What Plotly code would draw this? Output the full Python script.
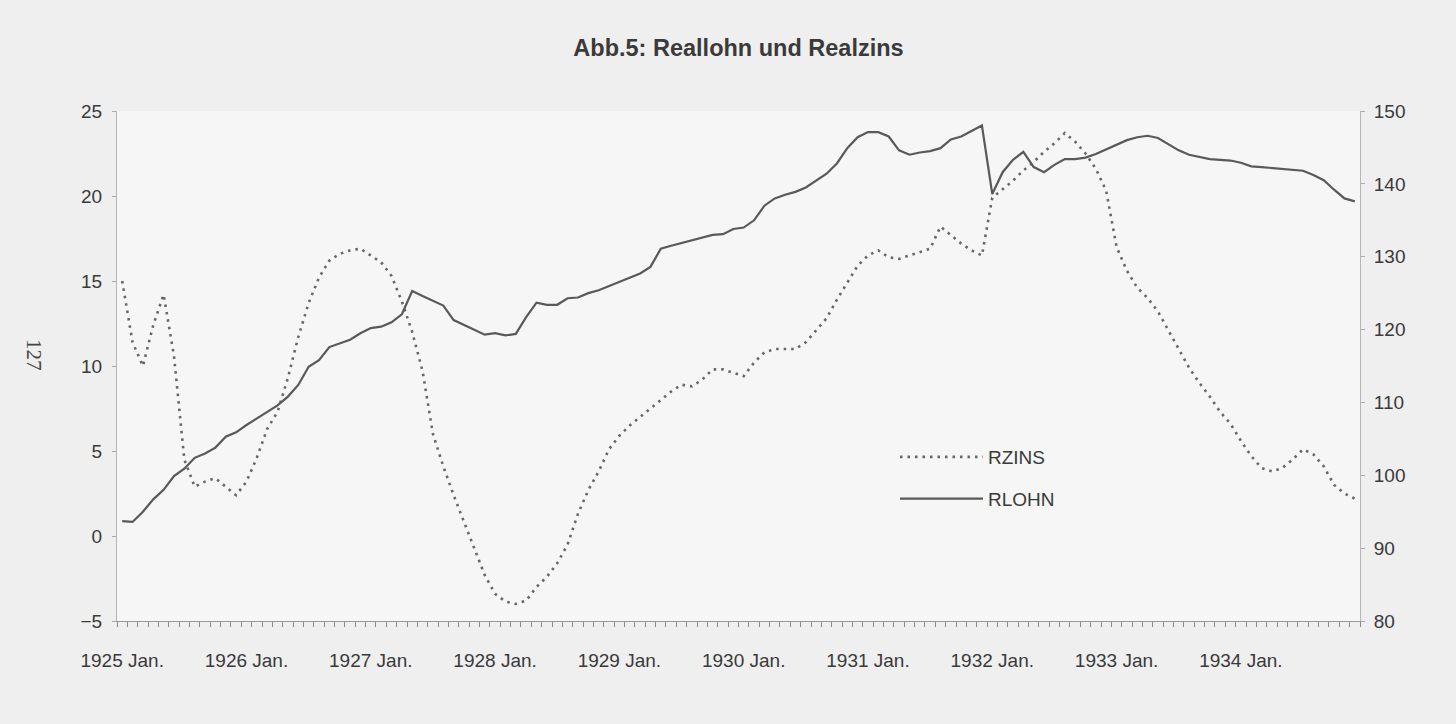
import plotly.graph_objects as go

# Monthly periods 1925 Jan .. 1934 Dec
years = list(range(1925, 1935))
periods = [f"{y}-{m:02d}" for y in years for m in range(1, 13)]
month_idx = list(range(len(periods)))

tick_labels = [f"{y} Jan." for y in range(1925, 1935)]
tick_pos = [periods.index(f"{y}-01") for y in range(1925, 1935)]

# Real interest rate (left axis)
rzins = [15.0, 11.4, 10.0, 12.4, 14.2, 10.6, 4.5, 2.9, 3.2, 3.4, 2.9, 2.4,
         3.2, 4.6, 6.3, 7.3, 9.3, 11.7, 13.7, 15.2, 16.2, 16.6, 16.8, 16.9,
         16.5, 16.1, 15.3, 13.8, 12.0, 9.7, 6.0, 4.1, 2.4, 0.8, -0.7, -2.3,
         -3.4, -3.85, -4.0, -3.8, -3.0, -2.4, -1.6, -0.5, 1.3, 2.7, 3.8, 5.1,
         5.9, 6.5, 7.0, 7.5, 8.0, 8.5, 8.9, 8.8, 9.2, 9.8, 9.8, 9.6,
         9.4, 10.2, 10.8, 11.0, 11.0, 11.0, 11.4, 12.1, 12.8, 13.9, 14.9, 15.9,
         16.5, 16.8, 16.4, 16.3, 16.5, 16.7, 16.9, 18.2, 17.7, 17.2, 16.8, 16.5,
         19.9, 20.4, 20.9, 21.5, 22.0, 22.6, 23.1, 23.7, 23.2, 22.5, 21.6, 20.3,
         17.0, 15.6, 14.6, 14.0, 13.2, 12.1, 11.0, 9.9, 9.0, 8.2, 7.3, 6.6,
         5.6, 4.7, 4.0, 3.8, 4.0, 4.5, 5.1, 4.8, 4.1, 3.0, 2.5, 2.2]

# Real wage (right axis)
rlohn = [93.7, 93.6, 95.0, 96.7, 98.0, 99.9, 100.9, 102.4, 103.0, 103.8, 105.3, 105.9,
         106.9, 107.8, 108.6, 109.6, 110.8, 112.4, 114.9, 115.8, 117.6, 118.1, 118.6, 119.5,
         120.2, 120.4, 121.0, 122.1, 125.3, 124.6, 123.9, 123.3, 121.3, 120.6, 119.9, 119.3,
         119.5, 119.2, 119.4, 121.7, 123.7, 123.4, 123.4, 124.3, 124.4, 125.0, 125.4, 126.0,
         126.6, 127.2, 127.7, 128.6, 131.1, 131.5, 131.9, 132.2, 132.6, 133.0, 133.1, 133.8,
         134.0, 135.0, 137.0, 138.0, 138.5, 138.9, 139.5, 140.5, 141.4, 142.8, 144.9, 146.4,
         147.1, 147.1, 146.5, 144.6, 144.0, 144.3, 144.5, 144.9, 146.1, 146.5, 147.2, 148.0,
         138.6, 141.6, 143.3, 144.4, 142.3, 141.6, 142.6, 143.4, 143.4, 143.6, 144.1, 144.7,
         145.4, 146.0, 146.4, 146.6, 146.3, 145.5, 144.6, 144.0, 143.7, 143.4, 143.3, 143.2,
         142.9, 142.4, 142.3, 142.2, 142.1, 141.9, 141.8, 141.2, 140.5, 139.2, 138.0, 137.6]

FONT = "Liberation Sans, Arial, sans-serif"
TXT = "#3a3a3a"

fig = go.Figure()
fig.add_trace(go.Scatter(
    x=month_idx, y=rzins, name="RZINS", mode="lines", yaxis="y",
    legendgroup="a",
    line=dict(color="#666666", width=2.6, dash="2.5px,5px"),
))
fig.add_trace(go.Scatter(
    x=month_idx, y=rlohn, name="RLOHN", mode="lines", yaxis="y2",
    legendgroup="b",
    line=dict(color="#595959", width=2.2),
))

fig.update_layout(
    width=1456, height=724,
    margin=dict(l=117, r=96, t=111, b=103),
    paper_bgcolor="#efefef",
    plot_bgcolor="#f6f6f6",
    font=dict(family=FONT, size=19, color=TXT),
    title=dict(text="<b>Abb.5: Reallohn und Realzins</b>",
               font=dict(family=FONT, size=23.5, color="#3a3a3a"),
               x=0.5, xref="paper", xanchor="center",
               y=1 - 48 / 724, yref="container", yanchor="middle"),
    xaxis=dict(
        range=[-0.5, len(periods) - 0.5],
        tickmode="array", tickvals=tick_pos, ticktext=tick_labels,
        ticks="", ticklabelstandoff=22,
        showline=True, linecolor="#9a9a9a", linewidth=1,
        showgrid=False, zeroline=False,
        minor=dict(tickmode="linear", tick0=-0.5, dtick=1, ticks="outside",
                   ticklen=5, tickcolor="#8a8a8a", tickwidth=1, showgrid=False),
    ),
    yaxis=dict(
        range=[-5, 25], dtick=5, tick0=-5,
        ticks="outside", ticklen=4, tickcolor="#aaaaaa",
        ticklabelstandoff=6,
        showline=True, linecolor="#b5b5b5", linewidth=1,
        showgrid=False, zeroline=False,
    ),
    yaxis2=dict(
        range=[80, 150], dtick=10, tick0=80,
        overlaying="y", side="right",
        ticks="outside", ticklen=4, tickcolor="#aaaaaa",
        ticklabelstandoff=5,
        showline=True, linecolor="#b5b5b5", linewidth=1,
        showgrid=False, zeroline=False,
    ),
    legend=dict(
        x=(895 - 117) / 1243, xanchor="left",
        y=(621 - 438) / 510, yanchor="top",
        bgcolor="rgba(0,0,0,0)", borderwidth=0,
        font=dict(family=FONT, size=19, color=TXT),
        itemwidth=83, tracegroupgap=14, traceorder="grouped",
    ),
    showlegend=True,
    annotations=[
        dict(text="127", x=(20 - 117) / 1243, y=(621 - 355) / 510,
             xref="paper", yref="paper", showarrow=False, textangle=90,
             font=dict(family="Liberation Serif, serif", size=21, color="#444444")),
    ],
)

fig.write_html(
    "out.html",
    config={"displayModeBar": False},
    post_script="document.body.style.margin='0';document.body.style.overflow='hidden';"
                "document.body.style.background='#efefef';",
)
